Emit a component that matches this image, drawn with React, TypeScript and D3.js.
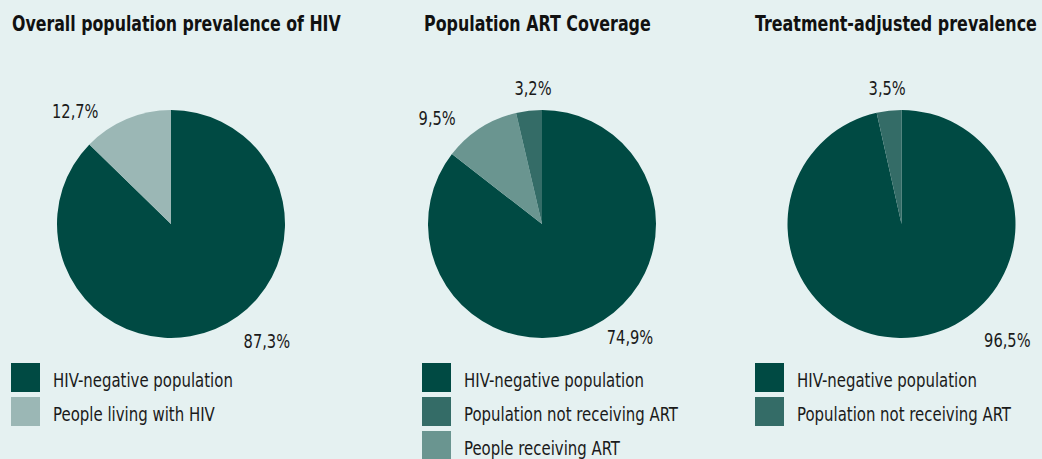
import React, { useLayoutEffect, useRef, useState } from "react";
import * as d3 from "d3";

const width = 1042;
const height = 459;

// data
const chartTitles = [
  "Overall population prevalence of HIV",
  "Population ART Coverage",
  "Treatment-adjusted prevalence",
];
const overallLabels = ["HIV-negative population", "People living with HIV"];
const overallValues = [87.3, 12.7];
const coverageLabels = [
  "HIV-negative population",
  "People receiving ART",
  "Population not receiving ART",
];
const coverageValues = [74.9, 9.5, 3.2];
const adjustedLabels = ["HIV-negative population", "Population not receiving ART"];
const adjustedValues = [96.5, 3.5];
const coverageLegendOrder = [
  "HIV-negative population",
  "Population not receiving ART",
  "People receiving ART",
];

const colors: Record<string, string> = {
  "HIV-negative population": "#004a43",
  "People living with HIV": "#9bb7b5",
  "Population not receiving ART": "#346c67",
  "People receiving ART": "#6a9590",
};

// layout (not data)
const panelX = [171, 542, 901.5];
const pieY = 224;
const radius = 114;
const legendX = [11, 422, 755];
const titleX = [12, 424, 755];
const titleWidths = [329, 227, 282];
// label angle (deg, clockwise from top) and distance per slice
const labelSpots = [
  [
    [140.6, 151],
    [319.7, 148],
  ],
  [
    [142, 143],
    [315.3, 149],
    [356.2, 136],
  ],
  [
    [137.6, 157],
    [354, 137],
  ],
];
const legendWidths: Record<string, number> = {
  "HIV-negative population": 180,
  "People living with HIV": 162,
  "Population not receiving ART": 214,
  "People receiving ART": 156,
};

const font = "'Liberation Sans Narrow', 'DejaVu Sans Condensed', 'Roboto Condensed', sans-serif";
const fmt = (v: number) => v.toFixed(1).replace(".", ",") + "%";

const charts = [
  { labels: overallLabels, values: overallValues, legend: overallLabels },
  { labels: coverageLabels, values: coverageValues, legend: coverageLegendOrder },
  { labels: adjustedLabels, values: adjustedValues, legend: adjustedLabels },
];

const pie = d3.pie<number>().sort(null).value((d) => d);
const arc = d3.arc<d3.PieArcDatum<number>>().innerRadius(0).outerRadius(radius);

// text squeezed horizontally to a target width (condensed look)
const FitText = ({ x, y, w, children, ...rest }: any) => {
  const ref = useRef<SVGTextElement>(null);
  const [sx, setSx] = useState(1);
  useLayoutEffect(() => {
    if (ref.current) {
      const nat = ref.current.getComputedTextLength();
      if (nat > 0) setSx(w / nat);
    }
  }, [w, children]);
  return (
    <g transform={`translate(${x},${y}) scale(${sx},1)`}>
      <text ref={ref} x={0} y={0} {...rest}>
        {children}
      </text>
    </g>
  );
};

const App = () => {
  return (
    <div style={{ position: "fixed", left: 0, top: 0, width, height, background: "#e5f1f1" }}>
      <svg width={width} height={height} style={{ display: "block" }}>
        <rect width={width} height={height} fill="#e5f1f1" />
        {charts.map((c, ci) => {
          const arcs = pie(c.values);
          return (
            <g key={ci}>
              <FitText
                x={titleX[ci]}
                y={31}
                w={titleWidths[ci]}
                fontFamily={font}
                fontWeight="bold"
                fontSize={22}
                fill="#111"
              >
                {chartTitles[ci]}
              </FitText>
              <g transform={`translate(${panelX[ci]},${pieY})`}>
                {arcs.map((a, i) => (
                  <path key={i} d={arc(a) || ""} fill={colors[c.labels[i]]} />
                ))}
                {arcs.map((a, i) => {
                  const [ang, r] = labelSpots[ci][i];
                  const [lx, ly] = d3.pointRadial((ang * Math.PI) / 180, r);
                  const s = fmt(a.data);
                  return (
                    <FitText
                      key={i}
                      x={lx - (s.length * 9.3) / 2}
                      y={ly + 7}
                      w={s.length * 9.3}
                      fontFamily={font}
                      fontSize={20}
                      fill="#1a1a1a"
                    >
                      {s}
                    </FitText>
                  );
                })}
              </g>
              <g transform={`translate(${legendX[ci]},363)`}>
                {c.legend.map((name, i) => (
                  <g key={name} transform={`translate(0,${i * 34})`}>
                    <rect width={29} height={29} fill={colors[name]} />
                    <FitText
                      x={42}
                      y={24}
                      w={legendWidths[name]}
                      fontFamily={font}
                      fontSize={20}
                      fill="#1a1a1a"
                    >
                      {name}
                    </FitText>
                  </g>
                ))}
              </g>
            </g>
          );
        })}
      </svg>
    </div>
  );
};

export default App;
